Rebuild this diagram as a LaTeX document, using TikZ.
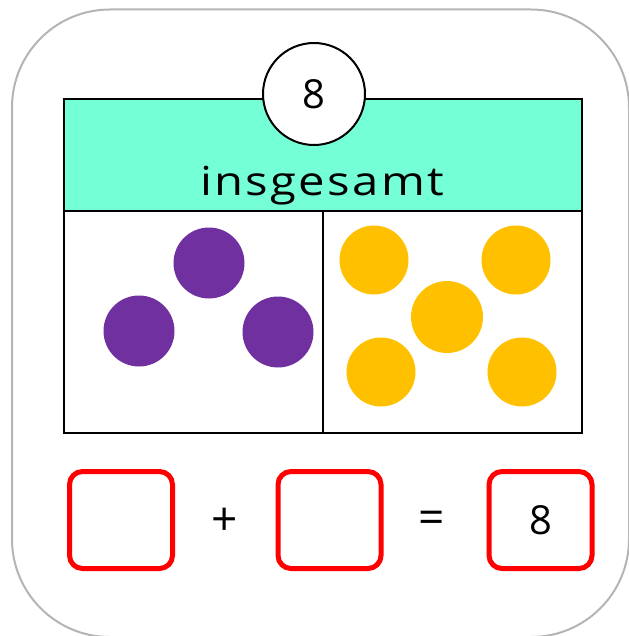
\documentclass[tikz,border=0pt]{standalone}
\usepackage{fontspec}
\setmainfont{Open Sans}
\definecolor{frame}{HTML}{B4B4B4}
\definecolor{aqua}{HTML}{75FFD6}
\definecolor{purp}{HTML}{7030A0}
\definecolor{yell}{HTML}{FFC000}
\definecolor{redbox}{HTML}{FF0000}
\begin{document}
\begin{tikzpicture}[x=1pt,y=-1pt,
  cell/.style={draw=black,line width=2pt},
  purpledot/.style={circle,fill=purp,inner sep=0pt,minimum size=71pt},
  yellowdot/.style={circle,fill=yell,inner sep=0pt,minimum size=69pt},
  answer/.style={draw=redbox,line width=5pt,rounded corners=13pt,minimum width=103pt,minimum height=97pt,inner sep=0pt,font=\fontsize{40}{44}\selectfont},
  sym/.style={font=\fontsize{46}{50}\selectfont,inner sep=0pt}]
\useasboundingbox (0,0) rectangle (628,636);
% outer frame
\draw[frame,line width=2pt,rounded corners=98pt] (12,9.5) rectangle (629,637);
% header
\draw[cell,fill=aqua] (64,99) rectangle (582,211);
\node[font=\fontsize{40}{44}\selectfont\addfontfeatures{LetterSpace=5},inner sep=0pt,anchor=base] (title) at (322,196) {\scalebox{1.18}[1]{insgesamt}};
% lower parts
\draw[cell] (64,211) rectangle (323,433);
\draw[cell] (323,211) rectangle (582,433);
% total circle
\node[circle,draw=black,line width=2pt,fill=white,minimum size=102pt,inner sep=0pt,font=\fontsize{40}{44}\selectfont] (total) at (314,94) {8};
% purple dots
\node[purpledot] (p1) at (139,331) {};
\node[purpledot] (p2) at (209,263) {};
\node[purpledot] (p3) at (278,332) {};
% yellow dots
\node[yellowdot] (y1) at (374,260) {};
\node[yellowdot] (y2) at (516,260) {};
\node[yellowdot,minimum size=72pt] (y3) at (447,317) {};
\node[yellowdot] (y4) at (381,372) {};
\node[yellowdot] (y5) at (522,372) {};
% equation
\node[answer] (a1) at (121,520) {};
\node[sym] (plus) at (225,522) {+};
\node[answer] (a2) at (329.5,520) {};
\node[sym] (eq) at (432,522) {=};
\node[answer] (a3) at (540.5,520) {8};
\end{tikzpicture}
\end{document}
